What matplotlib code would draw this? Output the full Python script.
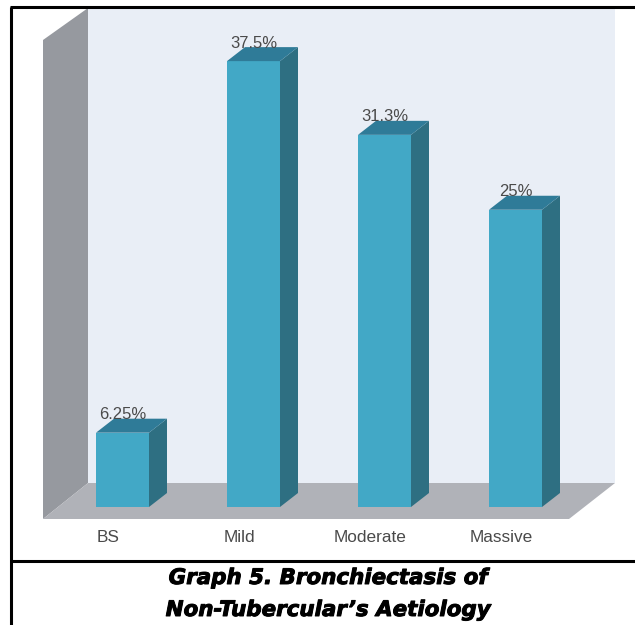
import matplotlib
matplotlib.use("Agg")
import matplotlib.pyplot as plt
import matplotlib.patheffects as pe
from matplotlib.patches import Polygon

categories = ['BS', 'Mild', 'Moderate', 'Massive']
values = [6.25, 37.5, 31.3, 25]
value_labels = ['6.25%', '37.5%', '31.3%', '25%']
title_lines = ['Graph 5. Bronchiectasis of', 'Non-Tubercular\u2019s Aetiology']

W, H = 635, 625
BAR_STEP = 131.0     # px between bars
Y_SCALE = 11.89      # px per percent
BASE_X, BASE_Y = 122.5, 507.0
BAR_W = 53.0 / BAR_STEP
DX = 18.0 / BAR_STEP
DY = 14.0 / Y_SCALE

FRONT = '#42a8c6'
SIDE = '#2e6f82'
TOP = '#2f7b98'
WALL = '#e9eef6'
SIDE_WALL = '#96999f'
FLOOR = '#b0b2b8'
TEXT = '#4a4a4a'

fig = plt.figure(figsize=(W / 100, H / 100), dpi=100, facecolor='white')

# backdrop is laid out in pixels, y going down
bg = fig.add_axes([0, 0, 1, 1], zorder=1)
bg.set_xlim(0, W)
bg.set_ylim(H, 0)
bg.axis('off')
bg.add_patch(Polygon([(88, 8), (615, 8), (615, 483), (88, 483)], fc=WALL, ec='none'))
bg.add_patch(Polygon([(43, 40), (88, 8), (88, 483), (43, 519)], fc=SIDE_WALL, ec='none'))
bg.add_patch(Polygon([(43, 519), (88, 483), (615, 483), (569, 519)], fc=FLOOR, ec='none'))

# table rules around the chart
bg.plot([11, 11], [H, 7], color='black', lw=2.2, solid_capstyle='butt')
bg.plot([10, W], [7, 7], color='black', lw=2.2, solid_capstyle='butt')
bg.plot([10, W], [561, 561], color='black', lw=2.2, solid_capstyle='butt')

# bars on a value axis with zero on the floor line
ax = fig.add_axes([0, 0, 1, 1], zorder=2)
ax.patch.set_alpha(0)
ax.set_xlim(-BASE_X / BAR_STEP, (W - BASE_X) / BAR_STEP)
ax.set_ylim(-(H - BASE_Y) / Y_SCALE, BASE_Y / Y_SCALE)
ax.axis('off')

for i, v in enumerate(values):
    l = i - BAR_W / 2
    r = i + BAR_W / 2
    ax.bar(i, v, width=BAR_W, color=FRONT, linewidth=0)
    ax.add_patch(Polygon([(r, 0), (r + DX, DY), (r + DX, v + DY), (r, v)], fc=SIDE, ec='none'))
    ax.add_patch(Polygon([(l, v), (l + DX, v + DY), (r + DX, v + DY), (r, v)], fc=TOP, ec='none'))
    ax.annotate(value_labels[i], (i, v), xytext=(0, 18), textcoords='offset pixels',
                ha='center', va='center', fontsize=12, color=TEXT,
                family='Liberation Sans')
    # category names sit a little left of their bars
    ax.annotate(categories[i], (i, 0), xytext=(-14, -30), textcoords='offset pixels',
                ha='center', va='center', fontsize=12.4, color=TEXT,
                family='Liberation Sans')

for line, y in zip(title_lines, [578, 610]):
    t = bg.text(328, y, line, ha='center', va='center', fontsize=15.4, color='black',
                family='DejaVu Sans', fontweight='bold', fontstyle='oblique')
    t.set_path_effects([pe.withStroke(linewidth=0.7, foreground='black')])

fig.savefig('out.png', dpi=100)
